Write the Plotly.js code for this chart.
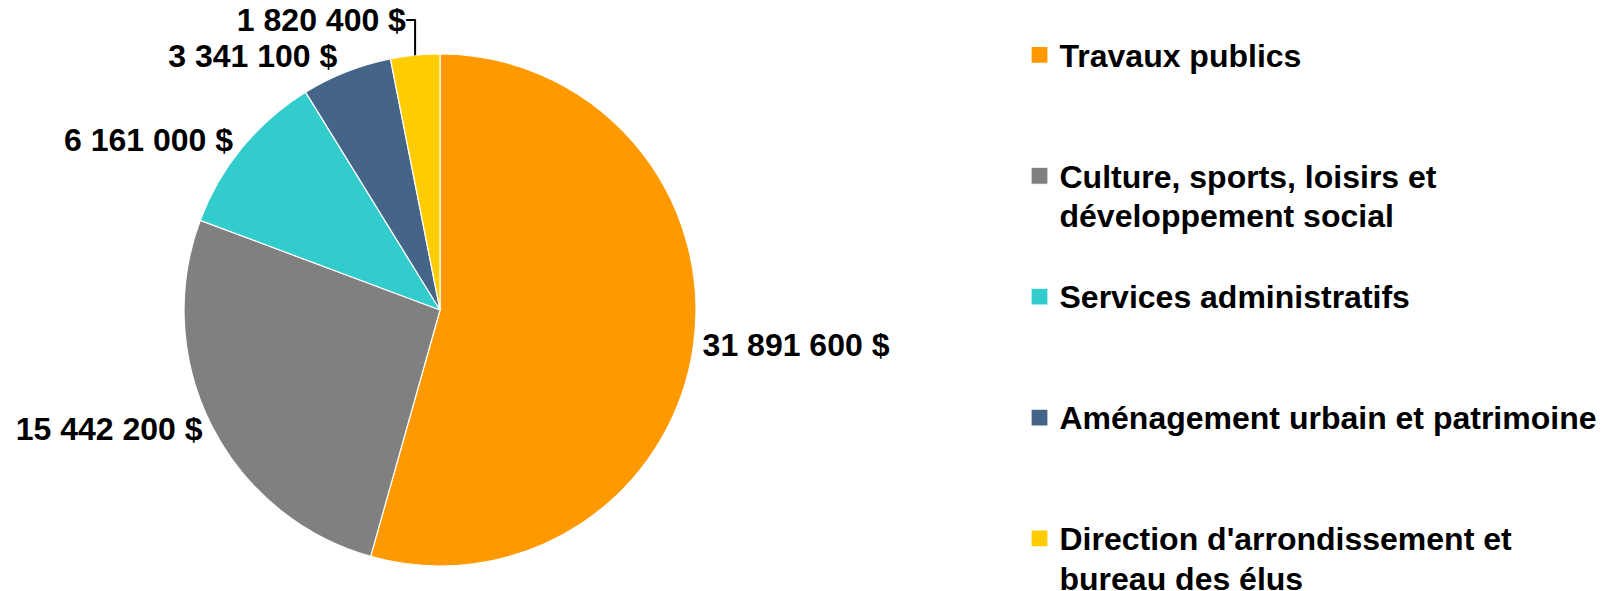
<!DOCTYPE html>
<html>
<head>
<meta charset="utf-8">
<script src="https://cdn.plot.ly/plotly-3.0.1.min.js"></script>
<style>html,body{margin:0;padding:0;background:#fff;overflow:hidden;}#chart{width:1603px;height:591px;}</style>
</head>
<body>
<div id="chart"></div>
<script>
const categories = [
  "Travaux publics",
  "Culture, sports, loisirs et<br>développement social",
  "Services administratifs",
  "Aménagement urbain et patrimoine",
  "Direction d'arrondissement et<br>bureau des élus"
];
const values = [31891600, 15442200, 6161000, 3341100, 1820400];
const colors = ["#FF9900", "#808080", "#33CCCC", "#446488", "#FFCC00"];

// legend entries padded to three lines so that items are spaced as in the reference
const legendLabels = categories.map(function (c, idx) {
  const parts = c.split("<br>");
  let s = '<span style="font-size:32px">' + parts.join('</span><br><span style="font-size:32px">') + '</span>';
  if (idx < categories.length - 1) {
    for (let i = parts.length; i < 3; i++) s += "<br>\u00a0";
  }
  return s;
});

const trace = {
  type: "pie",
  labels: legendLabels,
  values: values,
  sort: false,
  direction: "clockwise",
  rotation: 0,
  marker: { colors: colors, line: { color: "#ffffff", width: 1.2 } },
  textposition: "outside",
  texttemplate: "%{value:,.0f} $",
  textfont: { family: "Liberation Sans, Arial, sans-serif", size: 32, color: "#000000", weight: "bold" },
  hoverinfo: "label+value",
  domain: { x: [0.1148, 0.4342], y: [0.0423, 0.9086] }
};

const layout = {
  width: 1603,
  height: 591,
  margin: { l: 0, r: 0, t: 0, b: 0, autoexpand: false },
  paper_bgcolor: "#ffffff",
  separators: ", ",
  font: { family: "Liberation Sans, Arial, sans-serif", color: "#000000", weight: "bold" },
  showlegend: true,
  legend: {
    x: 0.636, xanchor: "left",
    y: 0.9514, yanchor: "top",
    valign: "top",
    font: { family: "Liberation Sans, Arial, sans-serif", size: 30.23, color: "#000000", weight: "bold" },
    bgcolor: "rgba(0,0,0,0)"
  }
};

Plotly.newPlot("chart", [trace], layout, { displayModeBar: false, staticPlot: true }).then(function (gd) {
  // let the last legend line run to the page edge, as in the reference
  gd.querySelectorAll(".legend [clip-path]").forEach(function (el) { el.removeAttribute("clip-path"); });
  gd.querySelectorAll(".legend .legendpoints path").forEach(function (el) {
    el.setAttribute("d", "M8.5,8.5H-8.5V-8.5H8.5Z");
  });
});
</script>
</body>
</html>
